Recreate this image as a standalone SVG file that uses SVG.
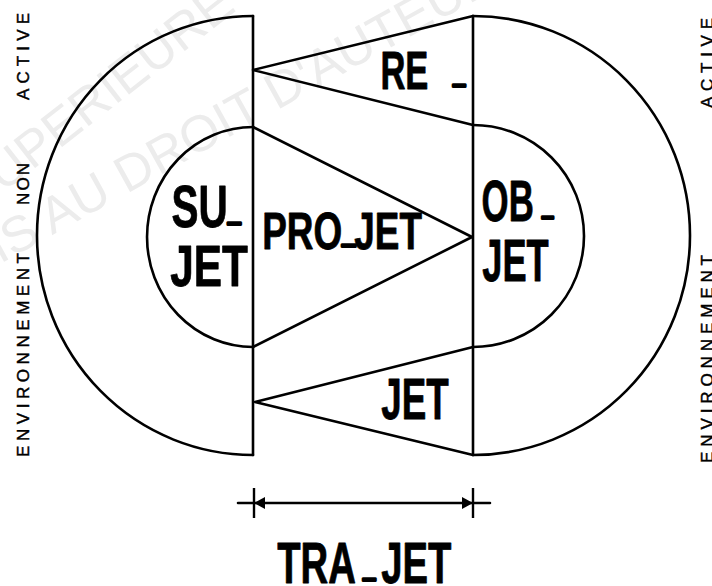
<svg xmlns="http://www.w3.org/2000/svg" width="712" height="586" viewBox="0 0 712 586">
<style>
.ln{fill:none;stroke:#000;stroke-width:2.6;stroke-linejoin:round;stroke-linecap:round}
.big{font-family:"Liberation Sans","Arial",sans-serif;font-weight:bold;fill:#000;stroke:#000;stroke-width:0.8;stroke-linejoin:round}
.us{font-size:34px;stroke-width:3.4}
.env{font-family:"Liberation Sans","DejaVu Sans",sans-serif;font-size:17px;fill:#000;stroke:#000;stroke-width:0.45}
.wm{font-family:"Liberation Sans","DejaVu Sans",sans-serif;font-size:51px;fill:#ececec}
</style>
<defs>
<marker id="dim" viewBox="-13 -17 15 34" refX="0" refY="0" markerWidth="15" markerHeight="34" markerUnits="userSpaceOnUse" orient="auto-start-reverse">
<path d="M0,0 L-11,-6 L-11,6 Z" fill="#000"/>
<path d="M0,-15 V15" stroke="#000" stroke-width="2.4" fill="none"/>
</marker>
</defs>
<rect width="712" height="586" fill="#fff"/>
<g id="watermark">
<text class="wm" transform="translate(-24,214) rotate(-38)">SUPERIEURE</text>
<text class="wm" transform="translate(0,264) rotate(-29)">IS AU DROIT D'AUTEUR</text>
</g>
<g id="env-non-active">
<path class="ln" d="M253,16 A216,219.5 0 0 0 253,455"/>
<g transform="translate(28.5,0) rotate(-90)">
<text class="env" x="-457" y="0" textLength="204" lengthAdjust="spacing">ENVIRONNEMENT</text>
<text class="env" x="-205" y="0" textLength="42" lengthAdjust="spacing">NON</text>
<text class="env" x="-100" y="0" textLength="87" lengthAdjust="spacing">ACTIVE</text>
</g>
</g>
<g id="env-active">
<path class="ln" d="M473,16 A217,219.5 0 0 1 473,455"/>
<g transform="translate(713,0) rotate(-90)">
<text class="env" x="-463" y="0" textLength="208" lengthAdjust="spacing">ENVIRONNEMENT</text>
<text class="env" x="-108" y="0" textLength="90" lengthAdjust="spacing">ACTIVE</text>
</g>
</g>
<g id="sujet">
<path class="ln" d="M253,127 A106,110 0 0 0 253,347"/>
<text class="big" font-size="59" transform="translate(171.6,227) scale(0.686,1)">SU<tspan class="us" x="82" dy="-7">_</tspan></text>
<text class="big" font-size="58" transform="translate(170.2,286) scale(0.73,1)">JET</text>
</g>
<g id="objet">
<path class="ln" d="M473,125 A111,111 0 0 1 473,347"/>
<text class="big" font-size="58" transform="translate(481.6,221) scale(0.6,1)">OB<tspan class="us" x="100.7" dy="-7">_</tspan></text>
<text class="big" font-size="60" transform="translate(482.3,281) scale(0.604,1)">JET</text>
</g>
<g id="axis-left">
<path class="ln" d="M253,16 V455"/>
</g>
<g id="axis-right">
<path class="ln" d="M473,16 V455"/>
</g>
<g id="re">
<path class="ln" d="M473,16 L253,70 L473,125"/>
<text class="big" font-size="53" transform="translate(380.4,89) scale(0.652,1)">RE <tspan class="us" x="111.3" dy="-7">_</tspan></text>
</g>
<g id="projet">
<path class="ln" d="M253,127 L472,237 L253,347"/>
<text class="big" font-size="52" transform="translate(262.2,249) scale(0.71,1)">PRO<tspan class="us" x="112.4" dy="-7">_</tspan><tspan x="129.7" dy="7">JET</tspan></text>
</g>
<g id="jet">
<path class="ln" d="M473,347 L255,402 L473,455"/>
<text class="big" font-size="58" transform="translate(381.3,419) scale(0.635,1)">JET</text>
</g>
<g id="connectors">
<path class="ln" d="M254,503 H473" marker-start="url(#dim)" marker-end="url(#dim)"/>
<path class="ln" d="M238,503 H254 M473,503 H490"/>
</g>
<g id="trajet">
<text class="big" font-size="58" transform="translate(277.2,583) scale(0.66,1)">TRA<tspan class="us" x="130" dy="-7">_</tspan><tspan x="157.6" dy="7">JET</tspan></text>
</g>
</svg>
